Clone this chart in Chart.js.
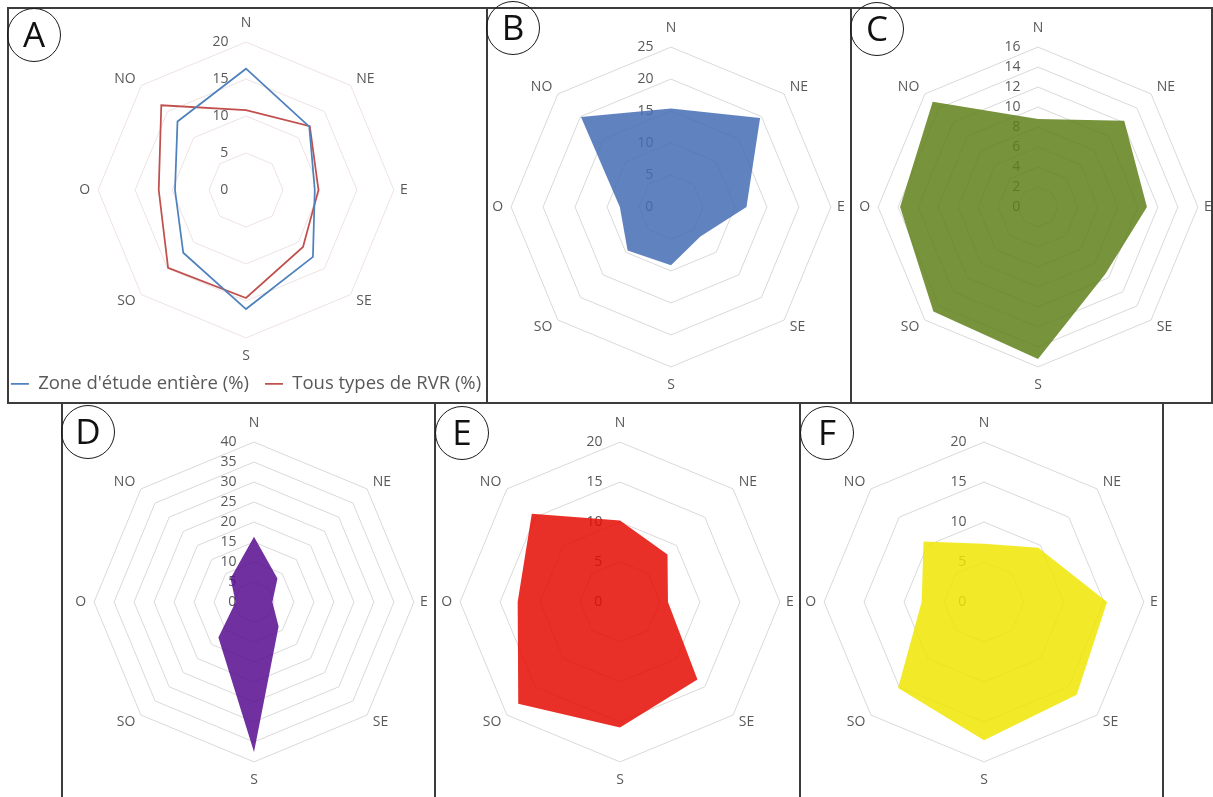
<!DOCTYPE html>
<html>
<head>
<meta charset="utf-8">
<script src="https://cdn.jsdelivr.net/npm/chart.js@4.4.1/dist/chart.umd.min.js"></script>
<style>
  html, body { margin: 0; padding: 0; background: #fff; overflow: hidden; }
  #page { position: relative; width: 1213px; height: 797px; overflow: hidden; background: #fff; font-family: "Open Sans", sans-serif; }
  canvas { position: absolute; }
  .rule { position: absolute; background: #3c3c3c; }
  .tag { position: absolute; width: 52px; height: 52px; border: 1.5px solid #1a1a1a; border-radius: 50%;
         font-size: 35px; line-height: 50px; text-align: center; color: #111; }
</style>
</head>
<body>
<div id="page">
  <div class="rule" style="left:7px;top:7px;width:1206px;height:2px"></div>
  <div class="rule" style="left:7px;top:402px;width:1206px;height:2px"></div>
  <div class="rule" style="left:7px;top:7px;width:2px;height:397px"></div>
  <div class="rule" style="left:486px;top:7px;width:2px;height:397px"></div>
  <div class="rule" style="left:850px;top:7px;width:2px;height:397px"></div>
  <div class="rule" style="left:1211px;top:7px;width:2px;height:397px"></div>
  <div class="rule" style="left:61px;top:402px;width:2px;height:395px"></div>
  <div class="rule" style="left:434px;top:402px;width:2px;height:395px"></div>
  <div class="rule" style="left:799px;top:402px;width:2px;height:395px"></div>
  <div class="rule" style="left:1162px;top:402px;width:2px;height:395px"></div>

  <canvas id="chartA" width="510" height="395" style="left:-9px;top:8px"></canvas>
  <canvas id="chartB" width="391" height="391" style="left:473px;top:12px"></canvas>
  <canvas id="chartC" width="391" height="391" style="left:840px;top:12px"></canvas>
  <canvas id="chartD" width="391" height="391" style="left:56px;top:407px"></canvas>
  <canvas id="chartE" width="391" height="391" style="left:422px;top:407px"></canvas>
  <canvas id="chartF" width="391" height="391" style="left:786px;top:407px"></canvas>

  <div class="tag" style="left:7px;top:8px">A</div>
  <div class="tag" style="left:486px;top:1px">B</div>
  <div class="tag" style="left:850px;top:2px">C</div>
  <div class="tag" style="left:61px;top:405px">D</div>
  <div class="tag" style="left:435px;top:406px">E</div>
  <div class="tag" style="left:800px;top:406px">F</div>
</div>

<script>
// directions, clockwise from north
const directions = ["N", "NE", "E", "SE", "S", "SO", "O", "NO"];

// panel A: two outlines
const zoneEntiere = [16.4, 12.1, 9.3, 12.8, 16.1, 12.0, 9.6, 13.1];
const tousTypesRVR = [10.8, 12.2, 9.8, 10.9, 14.6, 14.9, 11.8, 16.2];
const ticksA = [0, 5, 10, 15, 20];

// panels B to F: filled areas
const valuesB = [15.4, 19.7, 11.8, 6.5, 9.1, 9.6, 8.0, 19.9];
const ticksB = [0, 5, 10, 15, 20, 25];

const valuesC = [8.8, 12.2, 10.9, 9.5, 15.2, 14.8, 13.8, 14.9];
const ticksC = [0, 2, 4, 6, 8, 10, 12, 14, 16];

const valuesD = [16.3, 8.3, 4.6, 8.7, 37.5, 12.6, 4.6, 8.3];
const ticksD = [0, 5, 10, 15, 20, 25, 30, 35, 40];

const valuesE = [10.2, 8.4, 6.0, 13.7, 15.7, 18.0, 12.8, 15.6];
const ticksE = [0, 5, 10, 15, 20];

const valuesF = [7.3, 9.6, 15.4, 16.4, 17.3, 15.2, 7.8, 10.7];
const ticksF = [0, 5, 10, 15, 20];

const FONT = "'Open Sans', sans-serif";
const GREY = "#595959";
// distance between the outer ring and each direction label
// (Chart.js already adds half the tick font size, 7px, on top of this)
const labelGap = [11, 1, -1, 1, 10, 1, 1, 1];

// Excel puts the value labels just left of the north axis
const tickText = (v) => {
  const s = String(v);
  return s + " ".repeat(s.length > 1 ? 14 : 12);
};

const radarScale = (ticks, gridColor) => ({
  min: 0,
  max: ticks[ticks.length - 1],
  // the first tick is skipped by Chart.js when min is 0, so the 0 label needs a spare one
  afterBuildTicks: (axis) => {
    axis.ticks = [{ value: 0 }].concat(ticks.map((v) => ({ value: v })));
  },
  angleLines: { display: false },
  grid: {
    color: (ctx) => (ctx.tick && ctx.tick.value === 0 ? "rgba(0,0,0,0)" : gridColor),
    lineWidth: 1,
  },
  ticks: {
    color: GREY,
    font: { family: FONT, size: 14 },
    showLabelBackdrop: false,
    backdropPadding: 0,
    callback: tickText,
  },
  pointLabels: {
    color: GREY,
    font: { family: FONT, size: 14, lineHeight: 0.15 },
    padding: (ctx) => labelGap[ctx.index],
  },
});

const baseOptions = (ticks, gridColor) => ({
  responsive: false,
  devicePixelRatio: 1,
  animation: false,
  events: [],
  layout: { padding: 15 },
  scales: { r: radarScale(ticks, gridColor) },
  plugins: { legend: { display: false }, tooltip: { enabled: false } },
});

// A: outlines with a legend under the chart
const optionsA = baseOptions(ticksA, "#efe2e2");
optionsA.layout = { padding: { top: 13 } };
optionsA.plugins.legend = {
  display: true,
  position: "bottom",
  labels: {
    color: GREY,
    font: { family: FONT, size: 18.5 },
    usePointStyle: true,
    pointStyle: "line",
    pointStyleWidth: 18,
    padding: 16,
  },
};

new Chart(document.getElementById("chartA"), {
  type: "radar",
  data: {
    labels: directions,
    datasets: [
      {
        label: "Zone d'étude entière (%)",
        data: zoneEntiere,
        borderColor: "#4f81bd",
        backgroundColor: "#4f81bd",
        borderWidth: 1.75,
        pointRadius: 0,
        fill: false,
      },
      {
        label: "Tous types de RVR (%)",
        data: tousTypesRVR,
        borderColor: "#c0504d",
        backgroundColor: "#c0504d",
        borderWidth: 1.75,
        pointRadius: 0,
        fill: false,
      },
    ],
  },
  options: optionsA,
});

// B to F: one filled area each
const filledRadar = (id, values, ticks, color) => {
  new Chart(document.getElementById(id), {
    type: "radar",
    data: {
      labels: directions,
      datasets: [
        {
          label: id,
          data: values,
          backgroundColor: color,
          borderWidth: 0,
          pointRadius: 0,
          fill: true,
        },
      ],
    },
    options: baseOptions(ticks, "#d9d9d9"),
  });
};

filledRadar("chartB", valuesB, ticksB, "rgba(68,109,181,0.85)");
filledRadar("chartC", valuesC, ticksC, "rgba(95,128,26,0.85)");
filledRadar("chartD", valuesD, ticksD, "rgba(87,12,143,0.85)");
filledRadar("chartE", valuesE, ticksE, "rgba(228,12,2,0.85)");
filledRadar("chartF", valuesF, ticksF, "rgba(240,230,4,0.85)");
</script>
</body>
</html>
